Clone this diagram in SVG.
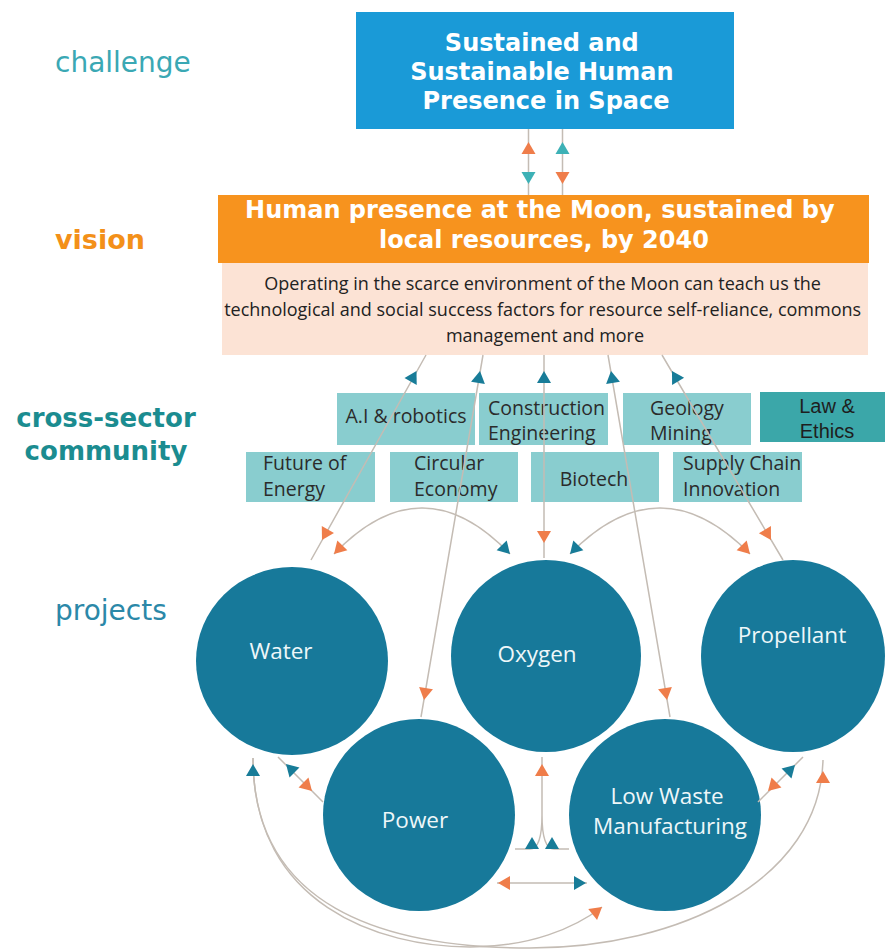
<svg xmlns="http://www.w3.org/2000/svg" xmlns:xlink="http://www.w3.org/1999/xlink" width="885" height="949" viewBox="0 0 885 949">
<style>
.lbl{font-family:"DejaVu Sans",sans-serif;}
.hd{font-family:"DejaVu Sans","Open Sans",sans-serif;font-weight:bold;fill:#ffffff;text-anchor:middle;}
.os{font-family:"Open Sans","Liberation Sans",sans-serif;}
.box{fill:#89cdcf;}
.boxt{font-family:"Open Sans","Liberation Sans",sans-serif;font-size:19.5px;fill:#2b2b2b;}
.circ{fill:#17799a;}
.ct{font-family:"Open Sans","Liberation Sans",sans-serif;font-size:22.5px;fill:#eef7f9;text-anchor:middle;}
.ln{fill:none;stroke:#c4bcb4;stroke-width:1.5;}
.or{fill:#ef7d4a;}
.tl{fill:#187c98;}
.tl2{fill:#3db1b6;}
</style>
<defs>
<path id="ah" d="M0,0 L-12,-7 L-12,7 Z"/>
</defs>
<rect width="885" height="949" fill="#ffffff"/>

<g id="labels">
<text class="lbl" x="55" y="72" font-size="28" fill="#3aa8b4">challenge</text>
<text class="lbl" x="55" y="249" font-size="27" font-weight="bold" fill="#f39019">vision</text>
<text class="lbl" x="106" y="427" font-size="26" font-weight="bold" fill="#1b8c90" text-anchor="middle">cross-sector</text>
<text class="lbl" x="106" y="460" font-size="26" font-weight="bold" fill="#1b8c90" text-anchor="middle">community</text>
<text class="lbl" x="55" y="620" font-size="28" fill="#2b88a8">projects</text>
</g>

<g id="challenge">
<rect x="356" y="12" width="378" height="117" fill="#1a9ad7"/>
<text class="hd" font-size="24">
<tspan x="546" y="51">Sustained and</tspan>
<tspan x="546" y="80">Sustainable Human</tspan>
<tspan x="546" y="109">Presence in Space</tspan>
</text>
</g>

<g id="vision">
<rect x="218" y="195" width="651" height="68" fill="#f7931e"/>
<text class="hd" font-size="24">
<tspan x="544" y="218">Human presence at the Moon, sustained by</tspan>
<tspan x="544" y="248">local resources, by 2040</tspan>
</text>
</g>

<g id="vision-detail">
<rect x="222" y="263" width="646" height="92" fill="#fce3d5"/>
<text class="os" font-size="18" fill="#222222" text-anchor="middle">
<tspan x="545" y="290">Operating in the scarce environment of the Moon can teach us the</tspan>
<tspan x="545" y="316">technological and social success factors for resource self-reliance, commons</tspan>
<tspan x="545" y="342">management and more</tspan>
</text>
</g>

<g id="ai-robotics">
<rect class="box" x="337" y="393" width="138" height="52"/>
<text class="boxt" x="406" y="423" text-anchor="middle">A.I &amp; robotics</text>
</g>
<g id="construction">
<rect class="box" x="479" y="393" width="129" height="52"/>
<text class="boxt"><tspan x="488" y="415">Construction</tspan><tspan x="488" y="440">Engineering</tspan></text>
</g>
<g id="geology">
<rect class="box" x="623" y="393" width="128" height="52"/>
<text class="boxt"><tspan x="650" y="415">Geology</tspan><tspan x="650" y="440">Mining</tspan></text>
</g>
<g id="law">
<rect x="760" y="392" width="125" height="50" fill="#3ba7a9"/>
<text font-family="Liberation Sans, Arial, sans-serif" font-size="20" fill="#1e1e1e" text-anchor="middle"><tspan x="827" y="413">Law &amp;</tspan><tspan x="827" y="438">Ethics</tspan></text>
</g>
<g id="future-energy">
<rect class="box" x="246" y="452" width="129" height="50"/>
<text class="boxt"><tspan x="263" y="470">Future of</tspan><tspan x="263" y="496">Energy</tspan></text>
</g>
<g id="circular">
<rect class="box" x="390" y="452" width="128" height="50"/>
<text class="boxt"><tspan x="414" y="470">Circular</tspan><tspan x="414" y="496">Economy</tspan></text>
</g>
<g id="biotech">
<rect class="box" x="531" y="452" width="128" height="50"/>
<text class="boxt" x="594" y="486" text-anchor="middle">Biotech</text>
</g>
<g id="supply-chain">
<rect class="box" x="673" y="452" width="129" height="50"/>
<text class="boxt"><tspan x="683" y="470">Supply Chain</tspan><tspan x="683" y="496">Innovation</tspan></text>
</g>

<g id="water"><ellipse class="circ" cx="292" cy="661" rx="96" ry="94"/><text class="ct" x="281" y="659">Water</text></g>
<g id="oxygen"><ellipse class="circ" cx="546" cy="656" rx="95" ry="96"/><text class="ct" x="537" y="662">Oxygen</text></g>
<g id="propellant"><ellipse class="circ" cx="793" cy="656" rx="92" ry="96"/><text class="ct" x="792" y="643">Propellant</text></g>
<g id="power"><ellipse class="circ" cx="419" cy="815" rx="96" ry="96"/><text class="ct" x="415" y="828">Power</text></g>
<g id="low-waste"><ellipse class="circ" cx="665" cy="815" rx="96" ry="96"/><text class="ct"><tspan x="667" y="804">Low Waste</tspan><tspan x="670" y="834">Manufacturing</tspan></text></g>

<g id="connectors">
<path class="ln" d="M528.5,129 V195 M562.5,129 V195"/>
<path class="ln" d="M426,355 L311,560 M483,355 L421,717 M544,355 V558 M608,355 L670,717 M662,355 L783,560"/>
<path class="ln" d="M334,554 Q422,462 510,554 M570,554 Q660,462 750,554"/>
<path class="ln" d="M278,757 L323,802 M758,802 L803,757 M497,883 H587"/>
<path class="ln" d="M515,849 H530 C539,849 542,836 542,815 V757 M569,849 H554 C545,849 542,836 542,815"/>
<path class="ln" d="M253,758 C253,905 380,948 530,948 C680,948 820,880 823,760"/>
<path class="ln" d="M253,758 C253,905 380,947 470,947 C530,947 575,928 602,907"/>

<use href="#ah" class="or" transform="translate(528.5,142) rotate(-90)"/>
<use href="#ah" class="tl2" transform="translate(528.5,184) rotate(90)"/>
<use href="#ah" class="tl2" transform="translate(562.5,142) rotate(-90)"/>
<use href="#ah" class="or" transform="translate(562.5,184) rotate(90)"/>

<use href="#ah" class="tl" transform="translate(416.5,371) rotate(-60.7)"/>
<use href="#ah" class="tl" transform="translate(480,371) rotate(-80.3)"/>
<use href="#ah" class="tl" transform="translate(544,371) rotate(-90)"/>
<use href="#ah" class="tl" transform="translate(611,371) rotate(-99.7)"/>
<use href="#ah" class="tl" transform="translate(672,371) rotate(-120.6)"/>

<use href="#ah" class="or" transform="translate(322,540) rotate(119.3)"/>
<use href="#ah" class="or" transform="translate(424,700) rotate(99.7)"/>
<use href="#ah" class="or" transform="translate(544,543) rotate(90)"/>
<use href="#ah" class="or" transform="translate(667,700) rotate(80.3)"/>
<use href="#ah" class="or" transform="translate(771,540) rotate(59.4)"/>

<use href="#ah" class="or" transform="translate(334,554) rotate(134)"/>
<use href="#ah" class="tl" transform="translate(510,554) rotate(46)"/>
<use href="#ah" class="tl" transform="translate(570,554) rotate(134)"/>
<use href="#ah" class="or" transform="translate(750,554) rotate(46)"/>

<use href="#ah" class="tl" transform="translate(286,764) rotate(-135)"/>
<use href="#ah" class="or" transform="translate(312,791) rotate(45)"/>
<use href="#ah" class="or" transform="translate(768,791) rotate(135)"/>
<use href="#ah" class="tl" transform="translate(795,765) rotate(-45)"/>

<use href="#ah" class="or" transform="translate(542,764) rotate(-90)"/>
<use href="#ah" class="tl" transform="translate(532,837) rotate(-90)"/>
<use href="#ah" class="tl" transform="translate(552,837) rotate(-90)"/>

<use href="#ah" class="or" transform="translate(498,883) rotate(180)"/>
<use href="#ah" class="tl" transform="translate(586,883)"/>

<use href="#ah" class="tl" transform="translate(253,764) rotate(-90)"/>
<use href="#ah" class="or" transform="translate(823,771) rotate(-90)"/>
<use href="#ah" class="or" transform="translate(602,907) rotate(-39)"/>
</g>
</svg>
